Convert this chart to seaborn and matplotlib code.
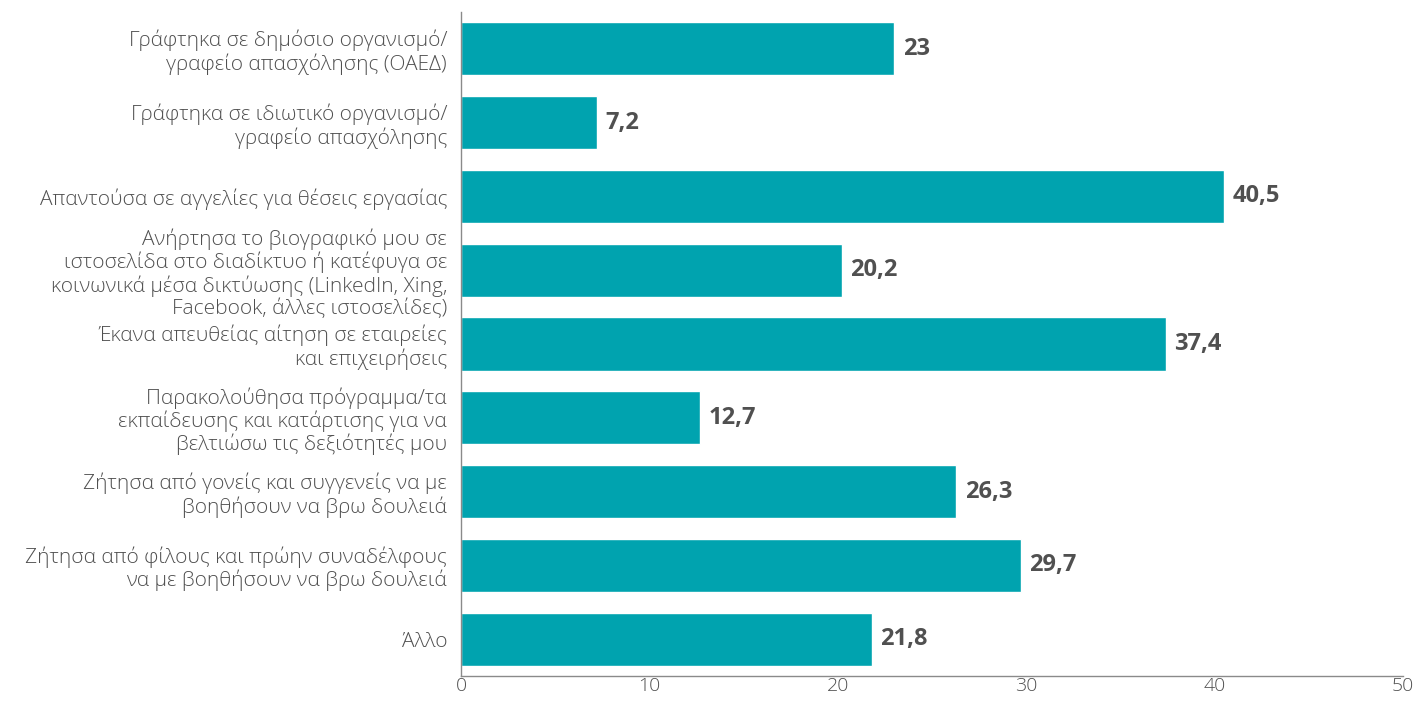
import matplotlib
matplotlib.use("Agg")
import matplotlib.pyplot as plt
import seaborn as sns
import pandas as pd

categories = [
    "Γράφτηκα σε δημόσιο οργανισμό/\nγραφείο απασχόλησης (ΟΑΕΔ)",
    "Γράφτηκα σε ιδιωτικό οργανισμό/\nγραφείο απασχόλησης",
    "Απαντούσα σε αγγελίες για θέσεις εργασίας",
    "Ανήρτησα το βιογραφικό μου σε\nιστοσελίδα στο διαδίκτυο ή κατέφυγα σε\nκοινωνικά μέσα δικτύωσης (LinkedIn, Xing,\nFacebook, άλλες ιστοσελίδες)",
    "Έκανα απευθείας αίτηση σε εταιρείες\nκαι επιχειρήσεις",
    "Παρακολούθησα πρόγραμμα/τα\nεκπαίδευσης και κατάρτισης για να\nβελτιώσω τις δεξιότητές μου",
    "Ζήτησα από γονείς και συγγενείς να με\nβοηθήσουν να βρω δουλειά",
    "Ζήτησα από φίλους και πρώην συναδέλφους\nνα με βοηθήσουν να βρω δουλειά",
    "Άλλο",
]
values = [23, 7.2, 40.5, 20.2, 37.4, 12.7, 26.3, 29.7, 21.8]
x_ticks = [0, 10, 20, 30, 40, 50]

sns.set_theme(style="white")
plt.rcParams["font.family"] = ["Open Sans", "DejaVu Sans"]

df = pd.DataFrame({"cat": categories, "val": values})

fig = plt.figure(figsize=(14.15, 7.02), dpi=100)
left_px, right_px = 461, 1403
ax = fig.add_axes([left_px / 1415, 1 - 676 / 702, (right_px - left_px) / 1415, (676 - 12) / 702])

bar_color = "#00A3AF"
text_color = "#505050"
sns.barplot(data=df, x="val", y="cat", color=bar_color, saturation=1,
            width=0.72, ax=ax, orient="h")

ax.set_xlim(0, 50)
ax.set_ylim(8.5, -0.5)
ax.set_xticks(x_ticks)
ax.set_xticklabels([str(t) for t in x_ticks], fontsize=14, color=text_color,
                   fontweight="light")
ax.tick_params(axis="x", direction="in", length=16, width=1, color="#8a8a8a", pad=1)
ax.tick_params(axis="y", length=0, pad=10)
for lbl in ax.get_yticklabels():
    lbl.set_fontsize(15)
    lbl.set_fontweight("light")
    lbl.set_color(text_color)
    lbl.set_linespacing(1.12)
    lbl.set_horizontalalignment("right")
ax.set_xlabel("")
ax.set_ylabel("")

for s in ["top", "right"]:
    ax.spines[s].set_visible(False)
for s in ["left", "bottom"]:
    ax.spines[s].set_color("#8a8a8a")
    ax.spines[s].set_linewidth(1)

for i, v in enumerate(values):
    txt = f"{v:g}".replace(".", ",")
    ax.annotate(txt, xy=(v, i), xytext=(6, 0), textcoords="offset points",
                va="center", ha="left", fontsize=17, fontweight="bold",
                color=text_color)

fig.savefig("out.png", dpi=100)
